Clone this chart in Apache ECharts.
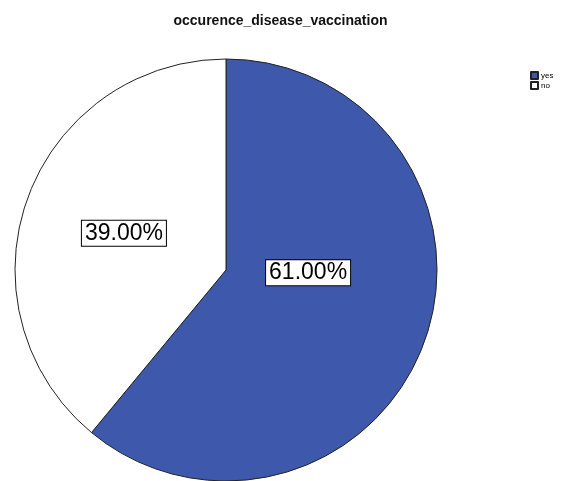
<!DOCTYPE html>
<html>
<head>
<meta charset="utf-8">
<script src="https://cdn.jsdelivr.net/npm/echarts@6/dist/echarts.min.js"></script>
<style>
  html, body { margin: 0; padding: 0; background: #fff; }
  #chart { width: 561px; height: 481px; }
</style>
</head>
<body>
<div id="chart"></div>
<script>
// 数据
const categories = ['yes', 'no']
const shares = [61.0, 39.0]
const colors = ['#3e58ac', '#ffffff']

const chart = echarts.init(document.getElementById('chart'))

chart.setOption({
  animation: false,
  title: {
    text: 'occurence_disease_vaccination',
    left: 'center',
    top: 9,
    textStyle: { fontFamily: 'Liberation Sans', fontSize: 14, fontWeight: 'bold', color: '#111' },
  },
  legend: {
    orient: 'vertical',
    left: 530,
    top: 71,
    padding: 0,
    itemWidth: 7,
    itemHeight: 7,
    itemGap: 1,
    icon: 'rect',
    textStyle: {
      fontFamily: 'Liberation Sans',
      fontSize: 8,
      lineHeight: 8,
      color: '#000',
      padding: [0, 0, 0, -2],
    },
    data: categories,
  },
  series: [
    {
      type: 'pie',
      center: [226, 270],
      radius: 211,
      startAngle: 90,
      clockwise: true,
      avoidLabelOverlap: false,
      emphasis: { disabled: true },
      itemStyle: { borderColor: '#222', borderWidth: 1 },
      label: {
        position: 'inside',
        formatter: (p) => p.value.toFixed(2) + '%',
        fontFamily: 'Liberation Sans',
        fontSize: 23,
        color: '#000',
        backgroundColor: '#fff',
        borderColor: '#000',
        borderWidth: 1,
        padding: [1, 3, 1, 3],
      },
      // 61% 标签在原图中偏向圆心
      labelLayout: (p) => (p.dataIndex === 0 ? { dx: -20, dy: -34 } : {}),
      data: categories.map((name, i) => ({
        name,
        value: shares[i],
        itemStyle: { color: colors[i] },
      })),
    },
  ],
})
</script>
</body>
</html>
